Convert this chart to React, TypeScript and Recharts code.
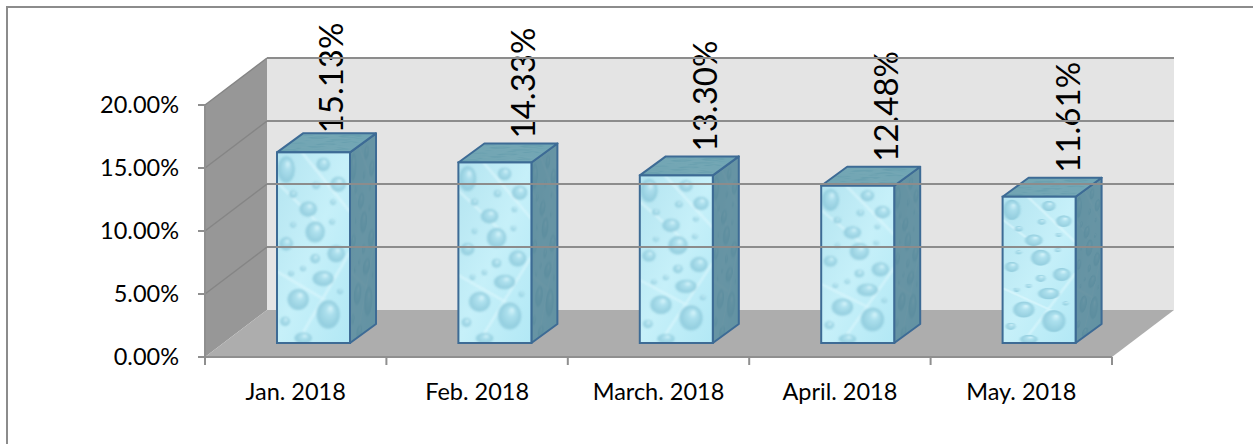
import { BarChart, Bar, XAxis, YAxis, ReferenceArea, ReferenceLine } from 'recharts'

const months = ['Jan. 2018', 'Feb. 2018', 'March. 2018', 'April. 2018', 'May. 2018']
const rates = [15.13, 14.33, 13.3, 12.48, 11.61]
const rateTicks = [0, 5, 10, 15, 20]
const gridTicks = [5, 10, 15, 20]

const chartData = months.map((month, i) => ({ month, rate: rates[i] }))

const FONT = 'Lato, Carlito, sans-serif'
const AXIS_GREY = '#8f8f8f'
// depth of the fake 3d box, and of each bar inside it
const WALL_DX = 62
const WALL_DY = 47
const BAR_DX = 26
const BAR_DY = 19
const BAR_SHIFT_X = 18
const BAR_SHIFT_Y = 14
const BAND = 181.4

// the first value label sits further left and lower than the others
const labelNudge = [
  [-2, -1],
  [9, -6],
  [9, -6],
  [9, -6],
  [9, -6],
]

// water drop texture, drawn in a 73 x 192 tile and stretched on each face
const drops = [
  [9, 17, 9, 14], [46, 12, 7, 7], [61, 32, 8, 8], [31, 57, 9, 8], [16, 42, 4, 4],
  [38, 80, 10, 11], [16, 73, 3, 3], [9, 92, 7, 7], [59, 102, 9, 9], [38, 107, 5, 5],
  [46, 127, 11, 8], [14, 122, 3, 3], [26, 117, 3, 3], [21, 148, 11, 11], [51, 163, 12, 15],
  [8, 170, 5, 5], [26, 187, 9, 6], [63, 140, 3, 3], [55, 70, 3, 3], [39, 33, 4, 4], [56, 50, 3, 3],
]

function Texture({ id, transform }: { id: number; transform: string }) {
  return (
    <g transform={transform} clipPath={`url(#tile-${id})`}>
      <rect width={73} height={192} fill={`url(#base-${id})`} />
      <g filter={`url(#soft-${id})`} opacity={0.72}>
        <path d="M0 30 L40 70 M25 0 L73 60 M0 120 L50 150 M20 192 L73 100" stroke="#e4fafe" strokeWidth={2.5} opacity={0.8} />
        {drops.map(([cx, cy, rx, ry], i) => (
          <ellipse key={i} cx={cx} cy={cy} rx={rx} ry={ry} fill={`url(#drop-${id})`} />
        ))}
      </g>
    </g>
  )
}

function WaterBar(props: any) {
  const { x, y, width, height, index, rate } = props
  const left = x + BAR_SHIFT_X
  const top = y - BAR_SHIFT_Y
  const right = left + width
  const bottom = top + height
  const sx = width / 73
  const sy = height / 192
  const outline = '#3d6b95'
  const [nudgeX, nudgeY] = labelNudge[index]
  return (
    <g>
      <defs>
        <clipPath id={`tile-${index}`}>
          <rect width={73} height={192} />
        </clipPath>
        <linearGradient id={`base-${index}`} x1="0" y1="0" x2="1" y2="1">
          <stop offset="0" stopColor="#b4e4f0" />
          <stop offset="0.5" stopColor="#c6f0f9" />
          <stop offset="1" stopColor="#b2e8f5" />
        </linearGradient>
        <radialGradient id={`drop-${index}`} cx="0.5" cy="0.55" r="0.55" fx="0.62" fy="0.28">
          <stop offset="0" stopColor="#e6fbff" />
          <stop offset="0.3" stopColor="#a8dcea" />
          <stop offset="0.8" stopColor="#84c3d6" />
          <stop offset="1" stopColor="#c2eef8" />
        </radialGradient>
        <filter id={`soft-${index}`}>
          <feGaussianBlur stdDeviation="1" />
        </filter>
      </defs>
      <text
        transform={`translate(${left + 68 + nudgeX} ${top - BAR_DY + 1 + nudgeY}) rotate(-90)`}
        fontFamily={FONT}
        fontSize={33}
        fill="#000"
      >
        {rate.toFixed(2)}%
      </text>
      <Texture id={index} transform={`matrix(${BAR_DX / 73} ${-BAR_DY / 73} 0 ${sy} ${right} ${top})`} />
      <polygon
        points={`${right},${top} ${right + BAR_DX},${top - BAR_DY} ${right + BAR_DX},${bottom - BAR_DY} ${right},${bottom}`}
        fill="#4f7d8e"
        fillOpacity={0.8}
        stroke={outline}
        strokeWidth={2}
        strokeLinejoin="round"
      />
      <Texture id={index} transform={`matrix(${sx} 0 ${BAR_DX / 192} ${-BAR_DY / 192} ${left} ${top})`} />
      <polygon
        points={`${left},${top} ${right},${top} ${right + BAR_DX},${top - BAR_DY} ${left + BAR_DX},${top - BAR_DY}`}
        fill="#558a9a"
        fillOpacity={0.72}
        stroke={outline}
        strokeWidth={2}
        strokeLinejoin="round"
      />
      <Texture id={index} transform={`matrix(${sx} 0 0 ${sy} ${left} ${top})`} />
      <rect x={left} y={top} width={width} height={height} fill="none" stroke={outline} strokeWidth={2} />
    </g>
  )
}

// back wall, side wall and floor
function Walls({ x, y, width, height }: any) {
  const bottom = y + height
  const right = x + width
  return (
    <g>
      <rect x={x + WALL_DX} y={y - WALL_DY} width={width} height={height} fill="#e4e4e4" />
      <polygon
        points={`${x},${bottom} ${x},${y} ${x + WALL_DX},${y - WALL_DY} ${x + WALL_DX},${bottom - WALL_DY}`}
        fill="#979797"
      />
      <polygon
        points={`${x},${bottom} ${x + WALL_DX},${bottom - WALL_DY} ${right + WALL_DX},${bottom - WALL_DY} ${right},${bottom}`}
        fill="#adadad"
      />
    </g>
  )
}

function GridLine({ x1, y1, x2, y2 }: any) {
  return (
    <g fill="none">
      <path d={`M${x1} ${y1} L${x1 + WALL_DX} ${y1 - WALL_DY}`} stroke="#858585" strokeWidth={1.5} />
      <path d={`M${x1 + WALL_DX} ${y1 - WALL_DY} L${x2 + WALL_DX} ${y2 - WALL_DY}`} stroke="#8c8c8c" strokeWidth={2} />
    </g>
  )
}

function MonthTick({ x, y, payload, index }: any) {
  return (
    <g>
      <line x1={x - BAND / 2} y1={y - 8} x2={x - BAND / 2} y2={y} stroke={AXIS_GREY} strokeWidth={2} />
      {index === months.length - 1 && (
        <line x1={x + BAND / 2} y1={y - 8} x2={x + BAND / 2} y2={y} stroke={AXIS_GREY} strokeWidth={2} />
      )}
      <text x={x} y={y + 35} textAnchor="middle" fontFamily={FONT} fontSize={23.5} fill="#000">
        {payload.value}
      </text>
    </g>
  )
}

export default function App() {
  return (
    <div style={{ position: 'absolute', left: 0, top: 0, width: 1253, height: 444, background: '#fff', overflow: 'hidden' }}>
      <div style={{ position: 'absolute', left: 6, top: 6, width: 1247, height: 438, borderTop: '2px solid #8c8c8c', borderLeft: '2px solid #8c8c8c', boxSizing: 'border-box' }} />
      <div style={{ position: 'absolute', left: 0, top: 0 }}>
        <BarChart
          width={1253}
          height={444}
          data={chartData}
          margin={{ top: 105, right: 141, bottom: 47, left: 145 }}
          barSize={73}
        >
          <ReferenceArea y1={0} y2={20} shape={<Walls />} ifOverflow="visible" />
          {gridTicks.map((tick) => (
            <ReferenceLine key={tick} y={tick} shape={<GridLine />} ifOverflow="visible" />
          ))}
          <XAxis
            dataKey="month"
            height={40}
            tickLine={false}
            tick={<MonthTick />}
            interval={0}
            axisLine={{ stroke: AXIS_GREY, strokeWidth: 2 }}
          />
          <YAxis
            width={60}
            domain={[0, 20]}
            ticks={rateTicks}
            tickSize={7}
            tickLine={{ stroke: AXIS_GREY, strokeWidth: 2 }}
            axisLine={{ stroke: AXIS_GREY, strokeWidth: 2 }}
            tickFormatter={(v: number) => `${v.toFixed(2)}%`}
            tick={{ fontFamily: FONT, fontSize: 23.5, fill: '#000' }}
            tickMargin={19}
          />
          <Bar dataKey="rate" isAnimationActive={false} shape={<WaterBar />} />
        </BarChart>
      </div>
    </div>
  )
}
